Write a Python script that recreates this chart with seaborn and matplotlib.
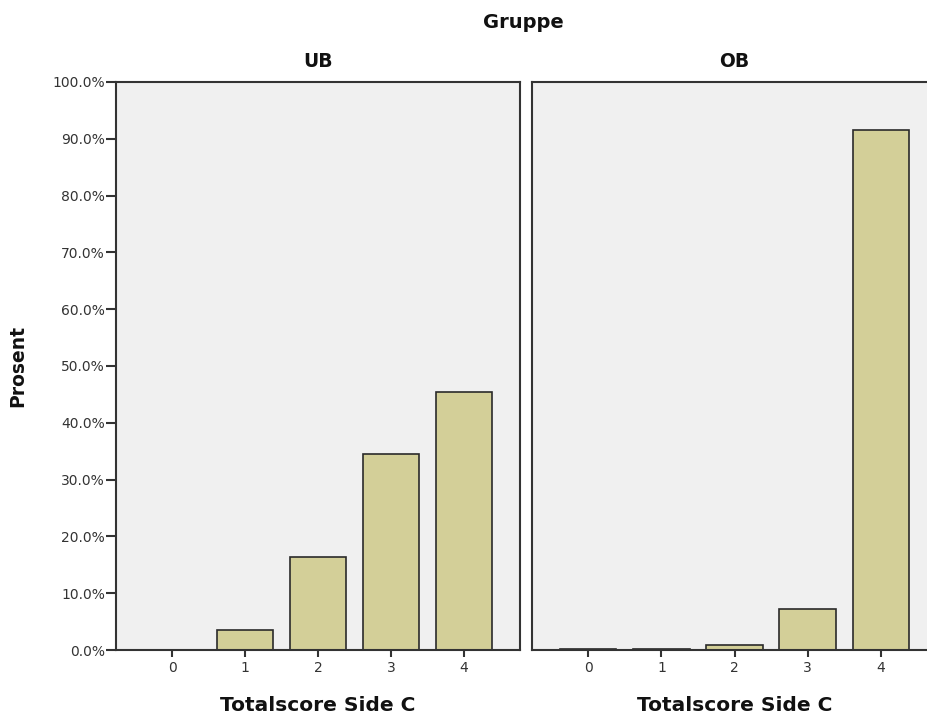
import pandas as pd
import numpy as np
import matplotlib
matplotlib.use('Agg')
import matplotlib.pyplot as plt
import seaborn as sns
import matplotlib.ticker as mtick

scores = [0, 1, 2, 3, 4]
groups = ['UB', 'OB']
ub_pct = [0.0, 3.6, 16.4, 34.5, 45.5]
ob_pct = [0.2, 0.2, 0.8, 7.2, 91.5]

df = pd.DataFrame({
    'score': [str(s) for s in scores] * 2,
    'gruppe': ['UB'] * 5 + ['OB'] * 5,
    'prosent': ub_pct + ob_pct,
})

sns.set_style('white')
plt.rcParams['font.family'] = ['DejaVu Sans']

W, H = 927, 716
fig = plt.figure(figsize=(W / 100, H / 100), dpi=100)

# panel boxes in pixels: left, right (OB runs off the right edge as in the original)
panels = {'UB': (116, 520), 'OB': (532, 937)}
top, bottom = 82, 650

bar_col = '#d3cf98'
edge_col = '#2a2a2a'

for i, g in enumerate(groups):
    l, r = panels[g]
    ax = fig.add_axes([l / W, 1 - bottom / H, (r - l) / W, (bottom - top) / H])
    ax.set_facecolor('#f0f0f0')
    sub = df[df['gruppe'] == g]
    sns.barplot(data=sub, x='score', y='prosent', order=[str(s) for s in scores],
                color=bar_col, edgecolor=edge_col, linewidth=1.2, width=0.77,
                saturation=1, ax=ax)
    ax.set_xlim(-0.77, 4.77)
    ax.set_ylim(0, 100)
    ax.yaxis.set_major_locator(mtick.MultipleLocator(10))
    ax.yaxis.set_major_formatter(mtick.PercentFormatter(decimals=1))
    for s in ax.spines.values():
        s.set_color('#333333')
        s.set_linewidth(1.5)
    ax.tick_params(axis='both', direction='out', width=1.5,
                   color='#333333', labelsize=10, labelcolor='#333333')
    ax.tick_params(axis='y', length=7.5, pad=0.5, left=(i == 0), labelleft=(i == 0))
    ax.tick_params(axis='x', length=5, pad=3, bottom=True)
    ax.set_xlabel('Totalscore Side C', fontsize=14.5, fontweight='bold', labelpad=15,
                  color='#111111')
    ax.set_ylabel('Prosent' if i == 0 else '', fontsize=13.5, fontweight='bold',
                  labelpad=18, color='#111111')
    ax.set_title(g, fontsize=13.5, fontweight='bold', pad=11, color='#111111')
    ax.grid(False)

fig.text(523 / W, 1 - 22 / H, 'Gruppe', ha='center', va='center',
         fontsize=14, fontweight='bold', color='#111111')

fig.savefig('out.png', dpi=100)
